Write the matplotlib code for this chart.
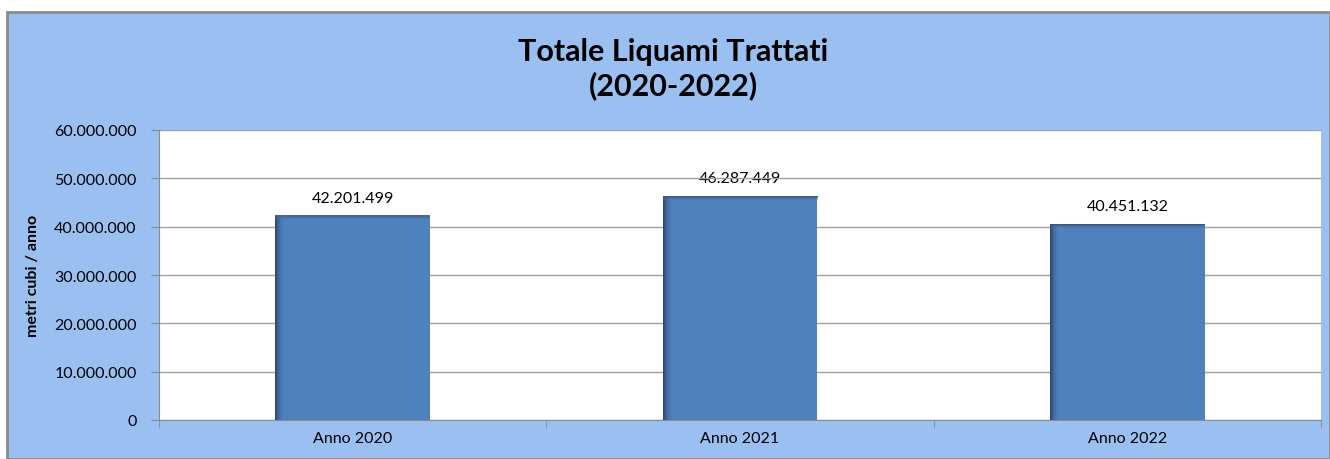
import matplotlib.pyplot as plt
import numpy as np
from matplotlib.colors import LinearSegmentedColormap
from matplotlib.patches import Rectangle
from matplotlib.ticker import FuncFormatter

# dati
categorie = ["Anno 2020", "Anno 2021", "Anno 2022"]
valori = [42201499, 46287449, 40451132]
etichette = ["42.201.499", "46.287.449", "40.451.132"]

plt.rcParams["font.family"] = ["Lato", "DejaVu Sans"]

fig = plt.figure(figsize=(13.3, 4.6), dpi=100)
fig.patch.set_facecolor("white")

# sfondo azzurro del grafico
sfondo = Rectangle((7 / 1330, 0), 1 - 7 / 1330, 1 - 13 / 460,
                   transform=fig.transFigure, facecolor="#99c0f0",
                   edgecolor="#8c8c8c", linewidth=2, zorder=0)
fig.patches.append(sfondo)

ax = fig.add_axes([159 / 1330, 39 / 460, 1162 / 1330, 290 / 460])
ax.set_zorder(2)
ax.set_facecolor("white")

x = np.arange(len(categorie))
larghezza = 0.4
ax.bar(x, valori, width=larghezza, color="#4f81bd", zorder=3)

# ombra sul lato sinistro e in alto delle barre
cmap_lato = LinearSegmentedColormap.from_list(
    "s", [(0.17, 0.27, 0.40, 1), (0.31, 0.51, 0.74, 0)])
cmap_alto = LinearSegmentedColormap.from_list(
    "t", [(0.31, 0.51, 0.74, 0), (0.20, 0.32, 0.47, 1)])
grad = np.linspace(0, 1, 50).reshape(1, -1)
for xi, v in zip(x, valori):
    x0 = xi - larghezza / 2
    ax.imshow(grad, extent=(x0, x0 + 0.025, 0, v), aspect="auto",
              cmap=cmap_lato, zorder=4)
    ax.imshow(grad.T[::-1], extent=(x0, x0 + larghezza, v - 900000, v),
              aspect="auto", cmap=cmap_alto, zorder=4)

for xi, v, t in zip(x, valori, etichette):
    ax.text(xi, v + 2300000, t, ha="center", va="bottom", fontsize=11.5,
            color="black", zorder=0.5)

ax.set_xlim(-0.5, 2.5)
ax.set_ylim(0, 60000000)
ax.set_yticks(np.arange(0, 60000001, 10000000))
ax.yaxis.set_major_formatter(
    FuncFormatter(lambda v, p: f"{int(v):,}".replace(",", ".")))
ax.grid(axis="y", color="#a0a0a0", linewidth=1, zorder=1)

ax.set_xticks(x)
ax.set_xticklabels(categorie, fontsize=11.5)
ax.set_xticks([-0.5, 0.5, 1.5, 2.5], minor=True)
ax.tick_params(axis="x", which="major", length=0, pad=8)
ax.tick_params(axis="x", which="minor", length=6, color="#8c8c8c",
               direction="out")
ax.tick_params(axis="y", length=6, color="#8c8c8c", labelsize=11.5, pad=10)

for lato in ["top", "right"]:
    ax.spines[lato].set_visible(False)
ax.spines["left"].set_color("#8c8c8c")
ax.spines["bottom"].set_color("#8c8c8c")

ax.set_ylabel("metri cubi / anno", fontsize=11.5, fontweight="bold",
              labelpad=10)

fig.text(673 / 1330, 1 - 69 / 460, "Totale Liquami Trattati\n(2020-2022)",
         ha="center", va="center", fontsize=22, fontweight="bold",
         linespacing=1.25)

fig.savefig("out.png", dpi=100)
